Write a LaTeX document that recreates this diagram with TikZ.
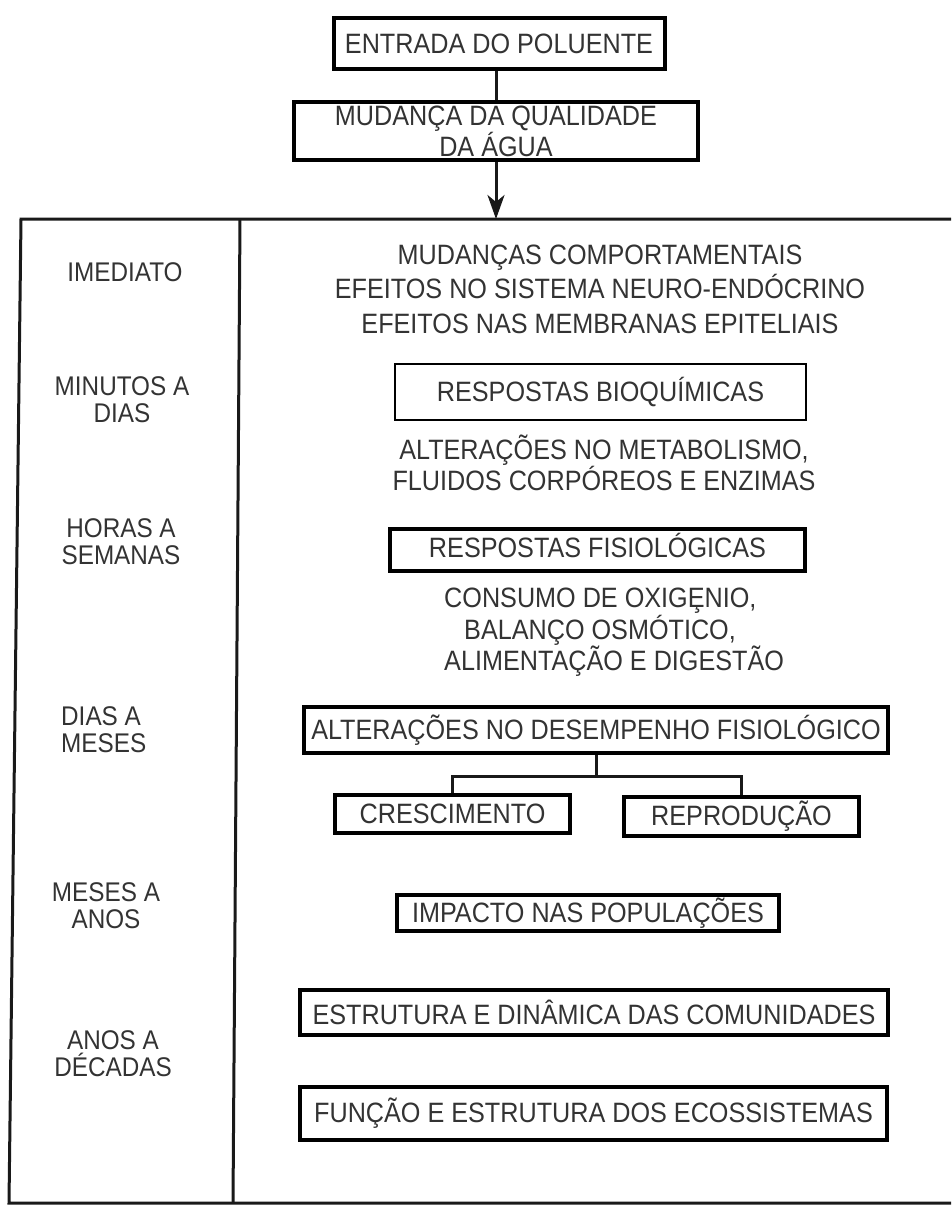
\documentclass[tikz,border=0pt]{standalone}
\usepackage{fontspec}
\setmainfont{Liberation Sans}[FakeStretch=0.9]
\usetikzlibrary{arrows.meta}
\begin{document}
\begin{tikzpicture}[x=1pt,y=-1pt,
  box/.style={draw=black, line width=4pt, rectangle, inner sep=0pt, text=black!80,
              font=\fontsize{28}{30}\selectfont, align=center},
  txt/.style={text=black!80, font=\fontsize{28}{30}\selectfont, align=center, inner sep=0pt},
  lbl/.style={text=black!80, font=\fontsize{27}{27}\selectfont, align=center, inner sep=0pt},
  frameline/.style={draw=black!90, line width=3pt},
  conn/.style={draw=black!90, line width=3pt}]
\useasboundingbox (0,0) rectangle (951,1205);
% frame
\coordinate (tl) at (21,219);
\coordinate (tr) at (951,219);
\coordinate (bl) at (9,1203);
\coordinate (br) at (951,1203);
\coordinate (dt) at (240,219);
\coordinate (db) at (233,1203);
\draw[frameline] (tr) -- (tl) -- (bl) -- (br);
\draw[frameline] (dt) -- (db);
% top boxes
\node[box, minimum width=331, minimum height=51] (b1) at (499,43.5) {ENTRADA DO POLUENTE};
\node[box, minimum width=404, minimum height=58, font=\fontsize{28}{30}\selectfont] (b2) at (496,131) {MUDANÇA DA QUALIDADE\\DA ÁGUA};
\draw[conn] (b2.north) -- (b2.north |- b1.south);
\draw[conn, -{Stealth[length=24pt,width=17pt,inset=7pt]}] (b2.south) -- (b2.south |- tl);
% left column labels
\node[lbl] (l1) at (125,272) {IMEDIATO};
\node[lbl] (l2) at (122,399.5) {MINUTOS A\\DIAS};
\node[lbl] (l3) at (121,541.5) {HORAS A\\SEMANAS};
\node[lbl, align=left, anchor=west] (l4) at (61,729.5) {DIAS A\\MESES};
\node[lbl] (l5) at (106,905.5) {MESES A\\ANOS};
\node[lbl] (l6) at (113,1053.5) {ANOS A\\DÉCADAS};
% right column
\node[txt, font=\fontsize{28}{34.5}\selectfont] (t1) at (600,289) {MUDANÇAS COMPORTAMENTAIS\\EFEITOS NO SISTEMA NEURO-ENDÓCRINO\\EFEITOS NAS MEMBRANAS EPITELIAIS};
\node[box, line width=2.5pt, minimum width=411, minimum height=56] (bio) at (600.5,392) {RESPOSTAS BIOQUÍMICAS};
\node[txt] (t2) at (604,463) {ALTERAÇÕES NO METABOLISMO,\\FLUIDOS CORPÓREOS E ENZIMAS};
\node[box, line width=4.5pt, minimum width=415, minimum height=42] (fis) at (597.5,550) {};
\node[txt] (fist) at (597.5,545) {RESPOSTAS FISIOLÓGICAS};
\node[txt, align=left, anchor=west, font=\fontsize{28}{29.5}\selectfont] (t3) at (444,632.5) {CONSUMO DE OXIGȨNIO,\\\hspace*{20pt}BALANÇO OSMÓTICO,\\ALIMENTAÇÃO E DIGESTÃO};
\node[box, minimum width=584, minimum height=46] (alt) at (596,730) {ALTERAÇÕES NO DESEMPENHO FISIOLÓGICO};
\node[box, minimum width=235, minimum height=38] (cres) at (452.5,814) {CRESCIMENTO};
\node[box, minimum width=235, minimum height=39] (rep) at (741.5,816.5) {REPRODUÇÃO};
\draw[conn] (alt.south) -- ++(0,21) coordinate (j);
\draw[conn] (cres.north) |- (j) -| (rep.north);
\node[box, minimum width=382, minimum height=36] (imp) at (588,913) {IMPACTO NAS POPULAÇÕES};
\node[box, line width=3.5pt, minimum width=588, minimum height=45] (est) at (594,1012.5) {ESTRUTURA E DINÂMICA DAS COMUNIDADES};
\node[box, minimum width=587, minimum height=53] (fun) at (593.5,1113.5) {FUNÇÃO E ESTRUTURA DOS ECOSSISTEMAS};
\end{tikzpicture}
\end{document}
